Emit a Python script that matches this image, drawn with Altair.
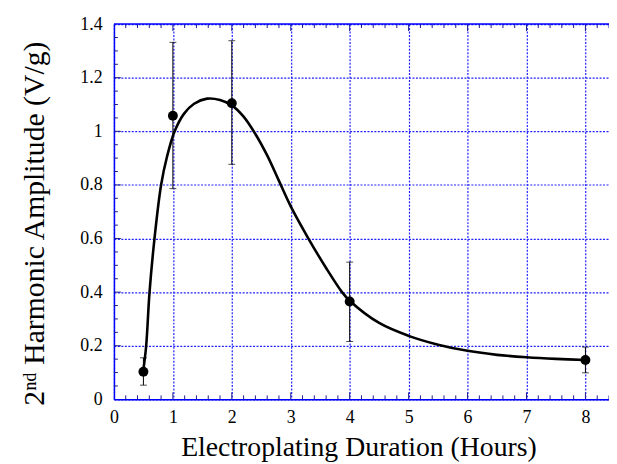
import altair as alt
import pandas as pd

# measured points (hours, amplitude V/g) with error bar limits
hours = [0.5, 1, 2, 4, 8]
amp = [0.103, 1.058, 1.105, 0.365, 0.147]
err_lo = [0.053, 0.786, 0.877, 0.216, 0.099]
err_hi = [0.155, 1.332, 1.338, 0.512, 0.195]

# fitted curve
fit_x = [0.5, 0.547, 0.604, 0.688, 0.80, 0.90, 1.03, 1.19, 1.36, 1.58, 1.80, 2.0, 2.2,
         2.4, 2.6, 2.8, 3.0, 3.3, 3.6, 3.87, 4.0, 4.5, 5.0, 5.5, 6.0, 6.5, 7.0, 7.5, 8.0]
fit_y = [0.11, 0.2, 0.4, 0.6, 0.8, 0.905, 1.0, 1.066, 1.103, 1.122, 1.117, 1.097, 1.055,
         0.99, 0.91, 0.815, 0.72, 0.6, 0.49, 0.4, 0.368, 0.285, 0.237, 0.204, 0.181,
         0.166, 0.157, 0.151, 0.147]

# tick positions
x_major = [0, 1, 2, 3, 4, 5, 6, 7, 8]
x_minor = [round(i * 0.2, 1) for i in range(43) if i % 5]
y_major = [0, 0.2, 0.4, 0.6, 0.8, 1.0, 1.2, 1.4]
y_minor = [round(i * 0.05, 2) for i in range(29) if i % 4]

W, H = 500, 379
BLUE = "#0000ff"
GRIDC = "#2020ff"
TICKC = "#1c1c8c"
FONT = "Liberation Serif"

xscale = alt.Scale(domain=[0, 8.4], nice=False, zero=False)
yscale = alt.Scale(domain=[0, 1.4], nice=False, zero=False)

pts = pd.DataFrame({"x": hours, "y": amp, "lo": err_lo, "hi": err_hi})
fit = pd.DataFrame({"x": fit_x, "y": fit_y})

xaxis = alt.Axis(values=x_major, format="~g", grid=True, gridColor=GRIDC, gridDash=[2, 1.5],
                 gridWidth=1.2, gridOpacity=1, domainColor=BLUE, domainWidth=1.5, ticks=False,
                 labelFont=FONT, labelFontSize=18, labelColor="black", labelPadding=9,
                 labelFlush=False, labelOverlap=False,
                 title="Electroplating Duration (Hours)", titleFont=FONT, titleFontSize=28,
                 titleFontWeight="normal", titleColor="black", titleX=247, titleY=57,
                 titleBaseline="alphabetic", titleAlign="center")
yaxis = alt.Axis(values=y_major, format="~g", grid=True, gridColor=GRIDC, gridDash=[2, 1.5],
                 gridWidth=1.2, gridOpacity=1, domainColor=BLUE, domainWidth=1.5, ticks=False,
                 labelFont=FONT, labelFontSize=18, labelColor="black", labelPadding=12,
                 labelFlush=False, labelOverlap=False,
                 title="2ⁿᵈ Harmonic Amplitude (V/g)", titleFont=FONT, titleFontSize=30,
                 titleFontWeight="normal", titleColor="black", titleX=-71, titleY=201,
                 titleAngle=-90, titleBaseline="alphabetic", titleAlign="center")


def X(f):
    return alt.X(f, scale=xscale, axis=xaxis)


def Y(f):
    return alt.Y(f, scale=yscale, axis=yaxis)


curve = alt.Chart(fit).mark_line(color="black", strokeWidth=2.6, interpolate="catmull-rom").encode(
    x=X("x:Q"), y=Y("y:Q"))

bars = alt.Chart(pts).mark_rule(color="black", strokeWidth=1).encode(
    x=X("x:Q"), y=Y("lo:Q"), y2="hi:Q")
cap_lo = alt.Chart(pts).mark_tick(orient="horizontal", size=7, thickness=1, color="black").encode(
    x=X("x:Q"), y=Y("lo:Q"))
cap_hi = alt.Chart(pts).mark_tick(orient="horizontal", size=7, thickness=1, color="black").encode(
    x=X("x:Q"), y=Y("hi:Q"))
dots = alt.Chart(pts).mark_circle(size=100, color="black", opacity=1).encode(
    x=X("x:Q"), y=Y("y:Q"))

top_frame = alt.Chart(pd.DataFrame({"a": [0]})).mark_rule(color=BLUE, strokeWidth=1.5).encode(
    x=alt.value(0), x2=alt.value(W + 2), y=alt.value(0)
)

xmin_df = pd.DataFrame({"x": x_minor})
xmaj_df = pd.DataFrame({"x": x_major[1:]})
ymin_df = pd.DataFrame({"y": y_minor})
ymaj_df = pd.DataFrame({"y": y_major[1:-1]})


def xticks(df, y0, y1):
    return alt.Chart(df).mark_rule(color=TICKC, strokeWidth=1).encode(
        x=X("x:Q"), y=alt.value(y0), y2=alt.value(y1))


def yticks(df, x0, x1):
    return alt.Chart(df).mark_rule(color=TICKC, strokeWidth=1).encode(
        y=Y("y:Q"), x=alt.value(x0), x2=alt.value(x1))


ticks = [
    xticks(xmin_df, H, H - 4), xticks(xmaj_df, H, H - 7),
    xticks(xmin_df, 0, 4), xticks(xmaj_df, 0, 7),
    yticks(ymin_df, 0, 4), yticks(ymaj_df, 0, 7),
]

chart = alt.layer(curve, *ticks, top_frame, bars, cap_lo, cap_hi, dots).properties(
    width=W, height=H,
    padding={"left": 107, "top": 14, "right": 0, "bottom": 61},
    autosize=alt.AutoSizeParams(type="none"),
).configure_view(stroke=None)

chart.save("out.html", embed_options={"renderer": "svg", "actions": False})
